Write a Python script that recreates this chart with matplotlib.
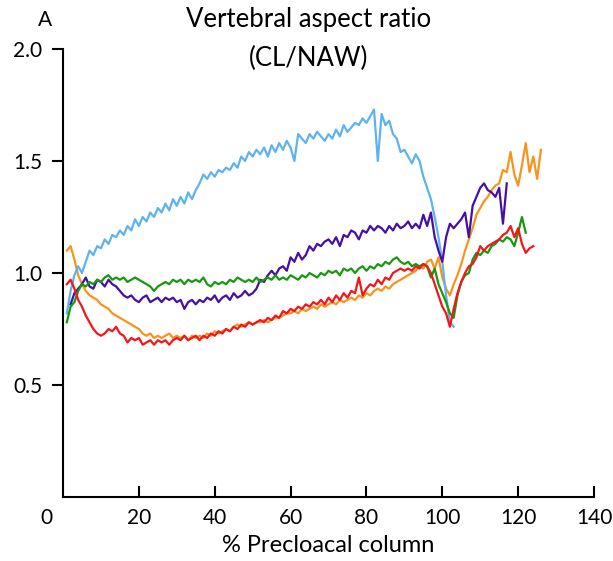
import numpy as np
import matplotlib.pyplot as plt

plt.rcParams['font.family'] = ['Lato', 'DejaVu Sans']

# Aspect ratio (CL/NAW) along the precloacal column, one curve per specimen
x_blue = np.arange(1, 104)
blue = [0.82, 0.92, 0.99, 1.03, 1.00, 1.05, 1.10, 1.08, 1.12, 1.11,
        1.15, 1.13, 1.17, 1.16, 1.19, 1.17, 1.21, 1.19, 1.24, 1.21,
        1.25, 1.23, 1.27, 1.25, 1.29, 1.27, 1.31, 1.28, 1.33, 1.30,
        1.34, 1.31, 1.36, 1.33, 1.37, 1.40, 1.44, 1.42, 1.45, 1.43,
        1.46, 1.45, 1.47, 1.46, 1.49, 1.47, 1.52, 1.50, 1.54, 1.52,
        1.55, 1.53, 1.56, 1.52, 1.57, 1.54, 1.58, 1.55, 1.59, 1.56,
        1.50, 1.62, 1.60, 1.58, 1.62, 1.60, 1.63, 1.61, 1.59, 1.62,
        1.60, 1.64, 1.61, 1.66, 1.63, 1.65, 1.67, 1.66, 1.69, 1.67,
        1.70, 1.73, 1.50, 1.71, 1.66, 1.68, 1.62, 1.60, 1.54, 1.55,
        1.52, 1.49, 1.53, 1.50, 1.43, 1.38, 1.33, 1.25, 1.16, 1.05,
        0.90, 0.78, 0.76]

x_purple = np.arange(2, 118)
purple = [0.86, 0.91, 0.93, 0.95, 0.98, 0.94, 0.93, 0.97, 0.96,
          0.94, 0.97, 0.95, 0.94, 0.92, 0.90, 0.89, 0.90, 0.88, 0.87,
          0.89, 0.90, 0.87, 0.88, 0.89, 0.87, 0.89, 0.88, 0.89, 0.87,
          0.88, 0.84, 0.87, 0.88, 0.86, 0.88, 0.87, 0.89, 0.88, 0.90,
          0.87, 0.89, 0.90, 0.88, 0.91, 0.89, 0.90, 0.92, 0.90, 0.91,
          0.93, 0.97, 0.96, 0.99, 1.01, 0.99, 1.02, 1.03, 1.01, 1.07,
          1.05, 1.09, 1.06, 1.08, 1.12, 1.10, 1.13, 1.12, 1.14, 1.15,
          1.13, 1.16, 1.12, 1.17, 1.16, 1.19, 1.18, 1.15, 1.19, 1.18,
          1.21, 1.19, 1.21, 1.20, 1.18, 1.21, 1.19, 1.22, 1.20, 1.21,
          1.23, 1.20, 1.22, 1.20, 1.26, 1.21, 1.27, 1.16, 1.10, 1.05,
          1.16, 1.22, 1.20, 1.22, 1.24, 1.27, 1.16, 1.30, 1.34, 1.38,
          1.40, 1.37, 1.36, 1.34, 1.38, 1.22, 1.40]

x_green = np.arange(1, 123)
green = [0.78, 0.85, 0.87, 0.92, 0.95, 0.94, 0.96, 0.95, 0.97, 0.96,
         0.98, 0.99, 0.97, 0.98, 0.97, 0.98, 0.96, 0.97, 0.98, 0.97,
         0.96, 0.95, 0.94, 0.92, 0.94, 0.95, 0.96, 0.95, 0.97, 0.96,
         0.97, 0.95, 0.97, 0.96, 0.97, 0.96, 0.98, 0.95, 0.94, 0.96,
         0.95, 0.96, 0.95, 0.97, 0.96, 0.98, 0.97, 0.96, 0.97, 0.96,
         0.98, 0.96, 0.97, 0.98, 0.97, 0.99, 0.97, 0.98, 0.97, 0.99,
         0.98, 0.97, 0.99, 0.98, 1.00, 0.99, 0.98, 1.00, 0.99, 1.01,
         1.00, 1.01, 0.99, 1.02, 1.01, 1.02, 1.00, 1.02, 1.03, 1.01,
         1.03, 1.02, 1.04, 1.03, 1.05, 1.04, 1.06, 1.07, 1.05, 1.04,
         1.05, 1.03, 1.04, 1.03, 1.04, 1.03, 0.98, 1.02, 0.95, 0.91,
         0.87, 0.82, 0.80, 0.90, 0.96, 0.99, 1.00, 1.06, 1.09, 1.08,
         1.10, 1.09, 1.12, 1.13, 1.15, 1.14, 1.16, 1.15, 1.12, 1.18,
         1.25, 1.18]

x_red = np.arange(1, 125)
red = [0.95, 0.97, 0.93, 0.88, 0.85, 0.81, 0.78, 0.75, 0.73, 0.72,
       0.73, 0.75, 0.74, 0.76, 0.73, 0.72, 0.69, 0.71, 0.70, 0.71,
       0.68, 0.69, 0.70, 0.68, 0.70, 0.69, 0.70, 0.68, 0.70, 0.71,
       0.70, 0.72, 0.70, 0.71, 0.72, 0.70, 0.72, 0.71, 0.73, 0.72,
       0.74, 0.73, 0.75, 0.74, 0.76, 0.75, 0.77, 0.76, 0.78, 0.77,
       0.78, 0.79, 0.78, 0.80, 0.79, 0.81, 0.80, 0.83, 0.82, 0.84,
       0.83, 0.85, 0.84, 0.86, 0.85, 0.87, 0.86, 0.88, 0.86, 0.89,
       0.87, 0.90, 0.88, 0.91, 0.89, 0.92, 0.91, 0.98, 0.90, 0.93,
       0.95, 0.94, 0.97, 0.95, 0.98, 0.97, 1.00, 1.01, 1.02, 1.01,
       1.02, 1.01, 1.03, 1.02, 1.04, 1.03, 1.00, 0.95, 0.90, 0.85,
       0.82, 0.76, 0.84, 0.91, 0.96, 1.00, 1.03, 1.04, 1.07, 1.12,
       1.10, 1.12, 1.13, 1.14, 1.15, 1.17, 1.18, 1.21, 1.16, 1.20,
       1.13, 1.09, 1.11, 1.12]

x_orange = np.arange(1, 127)
orange = [1.10, 1.12, 1.06, 0.99, 0.95, 0.92, 0.90, 0.89, 0.88, 0.86,
          0.85, 0.84, 0.82, 0.81, 0.80, 0.79, 0.78, 0.77, 0.76, 0.75,
          0.73, 0.72, 0.73, 0.71, 0.72, 0.71, 0.72, 0.73, 0.71, 0.72,
          0.71, 0.72, 0.70, 0.72, 0.71, 0.72, 0.71, 0.73, 0.72, 0.74,
          0.73, 0.74, 0.75, 0.74, 0.76, 0.77, 0.76, 0.77, 0.78, 0.77,
          0.78, 0.78, 0.79, 0.78, 0.79, 0.80, 0.80, 0.81, 0.82, 0.82,
          0.83, 0.82, 0.84, 0.83, 0.84, 0.85, 0.84, 0.86, 0.85, 0.86,
          0.87, 0.86, 0.88, 0.87, 0.88, 0.89, 0.88, 0.90, 0.89, 0.91,
          0.90, 0.92, 0.93, 0.92, 0.94, 0.93, 0.95, 0.96, 0.97, 0.98,
          0.99, 1.00, 1.01, 1.03, 1.02, 1.05, 1.06, 1.02, 1.07, 0.98,
          0.93, 0.90, 0.95, 0.99, 1.04, 1.10, 1.15, 1.20, 1.26, 1.29,
          1.32, 1.34, 1.37, 1.39, 1.40, 1.46, 1.45, 1.54, 1.44, 1.39,
          1.48, 1.58, 1.45, 1.52, 1.42, 1.55]

xticks = [20, 40, 60, 80, 100, 120, 140]
yticks = [0.5, 1.0, 1.5, 2.0]

fig = plt.figure(figsize=(6.13, 5.61), dpi=100)
ax = fig.add_axes([0.1028, 0.114, 0.8662, 0.7987])

lw = 1.6
ax.plot(x_orange, orange, color='#f7941d', lw=lw)
ax.plot(x_blue, blue, color='#5eb3ef', lw=lw)
ax.plot(x_purple, purple, color='#4510a6', lw=lw)
ax.plot(x_green, green, color='#16990f', lw=lw)
ax.plot(x_red, red, color='#f4161a', lw=lw)

ax.set_xlim(0, 140)
ax.set_ylim(0, 2.0)
ax.spines['top'].set_visible(False)
ax.spines['right'].set_visible(False)
ax.spines['left'].set_linewidth(1.5)
ax.spines['bottom'].set_linewidth(1.5)

ax.set_xticks(xticks)
ax.set_xticklabels([str(t) for t in xticks])
ax.set_yticks(yticks)
ax.set_yticklabels([f'{t:.1f}' for t in yticks])
ax.tick_params(axis='x', direction='in', length=8, width=1.5, labelsize=15, pad=8)
ax.tick_params(axis='y', direction='out', length=8, width=1.5, labelsize=15, pad=7)

# origin label sits left of the corner
ax.annotate('0', xy=(0, 0), xycoords=('data', 'axes fraction'),
            xytext=(-12, -8), textcoords='offset points',
            ha='center', va='top', fontsize=15)

ax.set_xlabel('% Precloacal column', fontsize=17, labelpad=5)

# two-line title, second line dips into the plot area
fig.text(0.504, 0.9645, 'Vertebral aspect ratio', ha='center', va='center',
         fontsize=18.5)
fig.text(0.504, 0.8965, '(CL/NAW)', ha='center', va='center', fontsize=18.5)
fig.text(0.062, 0.982, 'A', ha='left', va='top', fontsize=15)

fig.savefig('out.png', dpi=100)
